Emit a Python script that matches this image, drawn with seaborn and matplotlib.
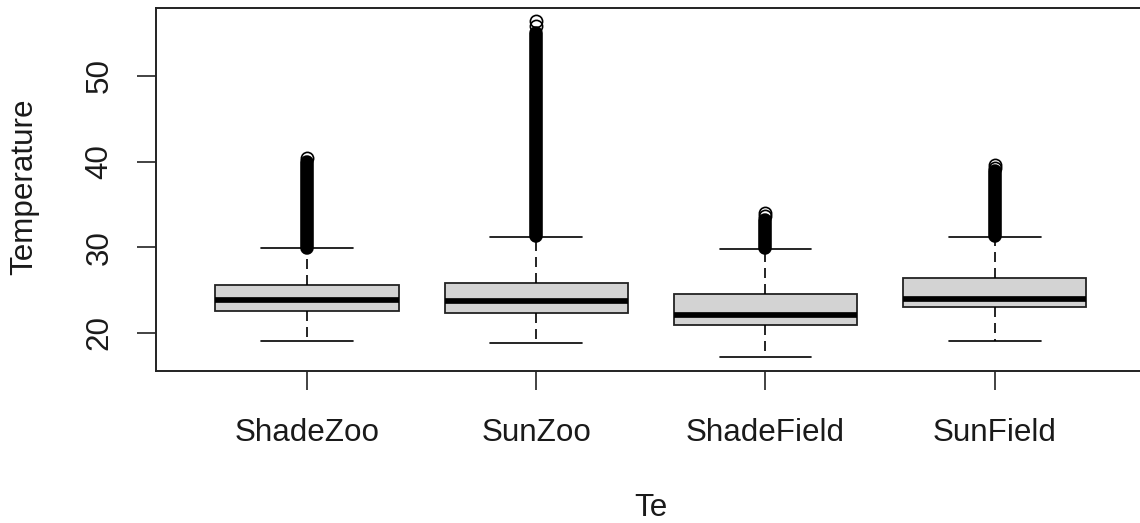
import matplotlib
matplotlib.use("Agg")
import matplotlib.pyplot as plt
import seaborn as sns
import pandas as pd

# ---- data ----
categories = ["ShadeZoo", "SunZoo", "ShadeField", "SunField"]
whisker_low = [19.03, 18.83, 17.13, 19.03]
q1 = [22.54, 22.27, 20.90, 22.97]
median = [23.82, 23.74, 22.07, 23.94]
q3 = [25.57, 25.84, 24.49, 26.36]
whisker_high = [29.86, 31.22, 29.82, 31.22]
# dense outlier columns: from first outlier up to where they stay solid
outlier_start = [29.95, 31.30, 29.90, 31.30]
outlier_solid_top = [40.0, 55.0, 33.2, 38.9]
# distinguishable outlier circles at the top of each column
top_outliers = [
    [40.4],
    [56.4, 55.8],
    [34.0, 33.6],
    [39.6, 39.2],
]
y_ticks = [20, 30, 40, 50]

# table for seaborn: five values per group reproduce the box statistics
rows = []
for c, lo, a, m, b, hi in zip(categories, whisker_low, q1, median, q3, whisker_high):
    for v in (lo, a, m, b, hi):
        rows.append({"group": c, "Temperature": v})
df = pd.DataFrame(rows)

sns.set_style("white")
plt.rcParams["font.family"] = ["Liberation Sans", "DejaVu Sans"]

fig = plt.figure(figsize=(11.4, 5.23), dpi=100)
W, H = 1140, 523
left_px, right_px, top_px, bottom_px = 155.7, 1146.0, 7.5, 371.0
ax = fig.add_axes([left_px / W, 1 - bottom_px / H,
                   (right_px - left_px) / W, (bottom_px - top_px) / H])

sns.boxplot(
    data=df, x="group", y="Temperature", order=categories, ax=ax,
    whis=(0, 100), width=0.8, color="#D3D3D3", saturation=1,
    linecolor="black", linewidth=1.2, showfliers=False,
    medianprops=dict(color="black", linewidth=4.1),
    whiskerprops=dict(color="black", linewidth=1.2, linestyle=(0, (6.0, 3.6))),
    capprops=dict(color="black", linewidth=1.2),
    boxprops=dict(edgecolor="#222222", linewidth=1.3),
)

# outliers
for i, c in enumerate(categories):
    ax.vlines(i, outlier_start[i], outlier_solid_top[i], color="black",
              linewidth=9.8, capstyle="round", zorder=4)
    ax.plot([i] * len(top_outliers[i]), top_outliers[i], linestyle="none",
            marker="o", markersize=8.8, markeredgewidth=1.2,
            markeredgecolor="black", markerfacecolor="none", zorder=5)

ax.set_xlim(-0.66, 3.66)
ax.set_ylim(15.52, 58.0)
ax.set_yticks(y_ticks)
ax.set_yticklabels([str(t) for t in y_ticks])

for s in ["left", "bottom", "top", "right"]:
    ax.spines[s].set_visible(True)
    ax.spines[s].set_color("#222222")
    ax.spines[s].set_linewidth(1.4)

fs = 22.6
ax.tick_params(axis="both", direction="out", length=13.5, width=1.2,
               color="#222222", labelsize=fs, labelcolor="#1a1a1a",
               left=True, bottom=True)
ax.tick_params(axis="x", pad=20)
ax.tick_params(axis="y", pad=16, labelrotation=90)
for lab in ax.get_yticklabels():
    lab.set_va("center")

ax.set_xlabel("Te", fontsize=fs, color="#1a1a1a")
ax.set_ylabel("Temperature", fontsize=fs, color="#1a1a1a")
ax.xaxis.set_label_coords(0.5, -0.3356)
ax.yaxis.set_label_coords(-0.1172, 0.5076)
ax.grid(False)

fig.savefig("out.png", dpi=100)
